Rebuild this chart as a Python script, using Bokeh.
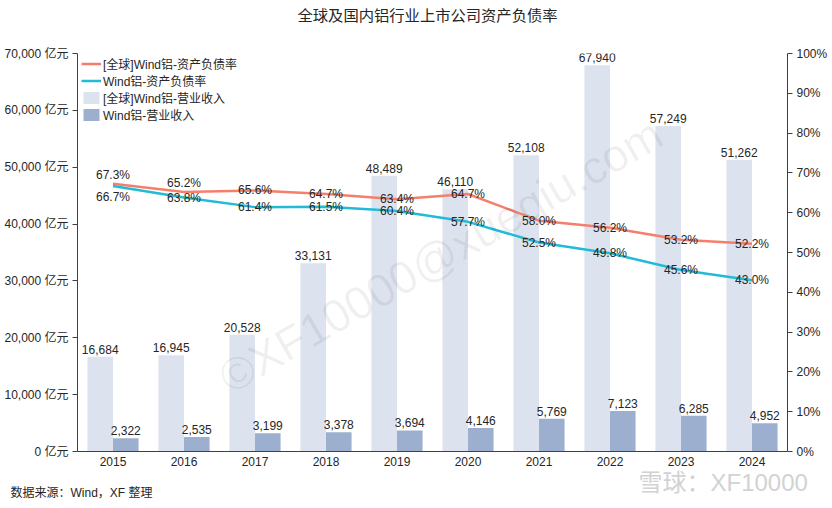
from bokeh.plotting import figure
from bokeh.models import (ColumnDataSource, FactorRange, Range1d, LinearAxis, FixedTicker,
                          Legend, LegendItem, Label)
from bokeh.transform import dodge
from bokeh.core.properties import value
from bokeh.embed import file_html
from bokeh.resources import INLINE

# ---------------- data ----------------
years = ["2015", "2016", "2017", "2018", "2019", "2020", "2021", "2022", "2023", "2024"]
global_revenue = [16684, 16945, 20528, 33131, 48489, 46110, 52108, 67940, 57249, 51262]
china_revenue = [2322, 2535, 3199, 3378, 3694, 4146, 5769, 7123, 6285, 4952]
global_ratio = [67.3, 65.2, 65.6, 64.7, 63.4, 64.7, 58.0, 56.2, 53.2, 52.2]
china_ratio = [66.7, 63.8, 61.4, 61.5, 60.4, 57.7, 52.5, 49.8, 45.6, 43.0]

left_ticks = [0, 10000, 20000, 30000, 40000, 50000, 60000, 70000]
left_tick_labels = ["0 亿元", "10,000 亿元", "20,000 亿元", "30,000 亿元",
                    "40,000 亿元", "50,000 亿元", "60,000 亿元", "70,000 亿元"]
pct_ticks = [0, 10, 20, 30, 40, 50, 60, 70, 80, 90, 100]
pct_tick_labels = ["0%", "10%", "20%", "30%", "40%", "50%", "60%", "70%", "80%", "90%", "100%"]

series_names = ["[全球]Wind铝-资产负债率", "Wind铝-资产负债率",
                "[全球]Wind铝-营业收入", "Wind铝-营业收入"]
title_text = "全球及国内铝行业上市公司资产负债率"
source_text = "数据来源：Wind，XF 整理"
watermark_text = "©XF10000@xueqiu.com"
brand_text = "雪球：XF10000"

# label pixel nudges (style only)
global_label_dy = [-9, -9, 0, 0, 0, 0, 0, 0, 0, 0]
china_label_dy = [11, 0, 0, 0, 0, 0, 0, 0, 0, 0]

# ---------------- styles ----------------
C_LIGHT = "#DCE3EE"
C_DARK = "#9DAFCF"
C_RED = "#F47F6B"
C_CYAN = "#22BBD7"
TXT = "#262626"
NARROW = "Liberation Sans Narrow, Liberation Sans, Noto Sans CJK SC"
SANS = "Liberation Sans, Noto Sans CJK SC"
CJK = "Noto Sans CJK SC"

src = ColumnDataSource(dict(
    year=years,
    g_rev=global_revenue,
    c_rev=china_revenue,
    g_ratio=global_ratio,
    c_ratio=china_ratio,
    g_rev_lbl=[f"{v:,}" for v in global_revenue],
    c_rev_lbl=[f"{v:,}" for v in china_revenue],
    g_ratio_lbl=[f"{v:.1f}%" for v in global_ratio],
    c_ratio_lbl=[f"{v:.1f}%" for v in china_ratio],
    g_dy=global_label_dy,
    c_dy=china_label_dy,
))

p = figure(width=832, height=508, x_range=FactorRange(*years), y_range=Range1d(0, 70000),
           output_backend="svg", toolbar_location=None,
           min_border_left=77, min_border_right=45, min_border_top=53, min_border_bottom=57)
p.outline_line_color = None
p.xgrid.grid_line_color = None
p.ygrid.grid_line_color = None
p.background_fill_color = "white"
p.title.visible = False

# left axis
ya = p.yaxis[0]
ya.ticker = FixedTicker(ticks=left_ticks)
ya.major_label_overrides = {t: l for t, l in zip(left_ticks, left_tick_labels)}
ya.major_label_text_font = NARROW
ya.major_label_text_font_size = "12px"
ya.major_label_text_color = TXT
ya.axis_line_color = "#404040"
ya.major_tick_line_color = "#404040"
ya.major_tick_out = 5
ya.major_tick_in = 0
ya.minor_tick_line_color = None
ya.major_label_standoff = 4

# bottom axis
xa = p.xaxis[0]
xa.axis_line_color = "#404040"
xa.major_tick_line_color = None
xa.major_tick_out = 0
xa.major_tick_in = 0
xa.minor_tick_line_color = None
xa.major_label_text_font = NARROW
xa.major_label_text_font_size = "12px"
xa.major_label_text_color = TXT
xa.major_label_standoff = 5

# right axis
p.extra_y_ranges = {"pct": Range1d(0, 100)}
ra = LinearAxis(y_range_name="pct", ticker=FixedTicker(ticks=pct_ticks),
                major_label_overrides={t: l for t, l in zip(pct_ticks, pct_tick_labels)})
ra.major_label_text_font = NARROW
ra.major_label_text_font_size = "12px"
ra.major_label_text_color = TXT
ra.axis_line_color = "#404040"
ra.major_tick_line_color = "#404040"
ra.major_tick_out = 5
ra.major_tick_in = 0
ra.minor_tick_line_color = None
ra.major_label_standoff = 4
p.add_layout(ra, "right")

# faint diagonal watermark (behind data)
p.add_layout(Label(x=363, y=196, x_units="screen", y_units="screen", text=watermark_text,
                   text_align="center", text_baseline="middle", text_font="Liberation Sans",
                   text_font_size="46px", text_color="#000000", text_alpha=0.06, angle=30,
                   angle_units="deg"))

# bars
b1 = p.vbar(x=dodge("year", -0.18, range=p.x_range), top="g_rev", width=0.36, source=src,
            fill_color=C_LIGHT, line_color=None)
b2 = p.vbar(x=dodge("year", 0.18, range=p.x_range), top="c_rev", width=0.36, source=src,
            fill_color=C_DARK, line_color=None)

# lines
l1 = p.line(x="year", y="g_ratio", source=src, y_range_name="pct", line_color=C_RED, line_width=2.5)
l2 = p.line(x="year", y="c_ratio", source=src, y_range_name="pct", line_color=C_CYAN, line_width=2.5)

# bar labels
for xoff, field, lbl in [(-0.18, "g_rev", "g_rev_lbl"), (0.18, "c_rev", "c_rev_lbl")]:
    p.text(x=dodge("year", xoff, range=p.x_range), y=field, text=lbl, source=src,
           text_align="center", text_baseline="bottom", y_offset=-3,
           text_font=value(NARROW), text_font_size="12px", text_color=TXT)

# ratio labels
for field, lbl, dy in [("g_ratio", "g_ratio_lbl", "g_dy"), ("c_ratio", "c_ratio_lbl", "c_dy")]:
    p.text(x="year", y=field, text=lbl, source=src, y_range_name="pct",
           text_align="center", text_baseline="middle", y_offset=dy,
           text_font=value(NARROW), text_font_size="12px", text_color=TXT)

# legend
legend = Legend(items=[LegendItem(label=series_names[0], renderers=[l1]),
                       LegendItem(label=series_names[1], renderers=[l2]),
                       LegendItem(label=series_names[2], renderers=[b1]),
                       LegendItem(label=series_names[3], renderers=[b2])],
                location=(4, 328), orientation="vertical")
legend.label_text_font = SANS
legend.label_text_font_size = "12px"
legend.label_text_color = TXT
legend.glyph_width = 20
legend.glyph_height = 15
legend.label_height = 16
legend.spacing = 0
legend.padding = 0
legend.margin = 0
legend.label_standoff = 2
legend.border_line_color = None
legend.background_fill_alpha = 0
p.add_layout(legend, "center")

# title and source note in the top side panel (offsets relative to their own slot)
p.add_layout(Label(x=220, y=40, x_units="screen", y_units="screen", text=title_text,
                   text_align="left", text_baseline="middle", text_font=CJK,
                   text_font_size="15.3px", text_color=TXT), "above")
p.add_layout(Label(x=-67, y=-461, x_units="screen", y_units="screen", text=source_text,
                   text_align="left", text_baseline="middle", text_font=SANS,
                   text_font_size="12px", text_color=TXT), "above")
# brand watermark in the bottom side panel
p.add_layout(Label(x=561, y=13.2, x_units="screen", y_units="screen", text=brand_text,
                   text_align="left", text_baseline="middle", text_font=SANS,
                   text_font_size="24px", text_color="#d2d2d2"), "below")

open("out.html", "w").write(file_html(p, INLINE))
